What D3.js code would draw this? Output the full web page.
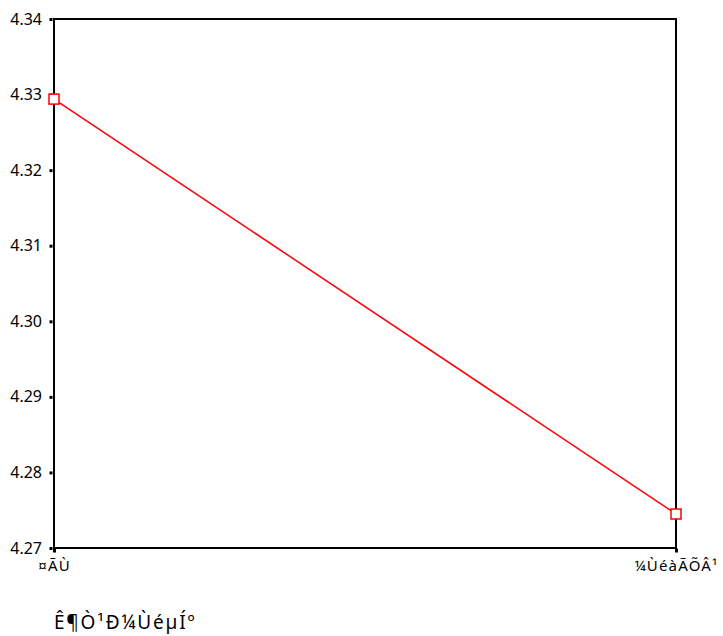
<!DOCTYPE html>
<html>
<head>
<meta charset="utf-8">
<script src="https://cdn.jsdelivr.net/npm/d3@7"></script>
<style>
  body { margin: 0; background: #fff; }
  text { font-family: "Noto Sans", sans-serif; fill: #000; }
</style>
</head>
<body>
<div id="chart"></div>
<script>
// data
var categories = ["¤ÃÙ", "¼ÙéàÃÕÂ¹"];
var means = [4.3294, 4.2745];
var yTicks = [4.27, 4.28, 4.29, 4.30, 4.31, 4.32, 4.33, 4.34];
var xTitle = "Ê¶Ò¹Ð¼ÙéµÍº";

var W = 723, H = 636;
var margin = { top: 19, right: 47, bottom: 88, left: 54 };

var svg = d3.select("#chart").append("svg").attr("width", W).attr("height", H);

var x = d3.scalePoint().domain(categories).range([margin.left, W - margin.right]);
var y = d3.scaleLinear().domain([4.27, 4.34]).range([H - margin.bottom, margin.top]);

// frame
svg.append("rect")
  .attr("x", margin.left).attr("y", margin.top)
  .attr("width", W - margin.right - margin.left)
  .attr("height", H - margin.bottom - margin.top)
  .attr("fill", "none").attr("stroke", "#000").attr("stroke-width", 2);

// y axis
var yAxis = d3.axisLeft(y).tickValues(yTicks).tickFormat(d3.format(".2f")).tickSize(0).tickPadding(12);
var gy = svg.append("g").attr("transform", "translate(" + margin.left + ",0)").call(yAxis);
gy.select(".domain").remove();
gy.attr("font-family", null).attr("font-size", null);
gy.selectAll("text").style("font-size", "16px");
gy.selectAll(".tick").append("rect")
  .attr("x", -4.5).attr("y", -1.5).attr("width", 3).attr("height", 3).attr("fill", "#000");

// x axis
var xAxis = d3.axisBottom(x).tickSize(0).tickPadding(12);
var gx = svg.append("g").attr("transform", "translate(0," + (H - margin.bottom) + ")").call(xAxis);
gx.select(".domain").remove();
gx.attr("font-family", null).attr("font-size", null);
gx.selectAll("text").style("font-size", "15px").style("letter-spacing", "1.2px");
gx.selectAll(".tick").append("rect")
  .attr("x", -1.5).attr("y", 0.5).attr("width", 3).attr("height", 4).attr("fill", "#000");

svg.append("text")
  .attr("x", margin.left).attr("y", 629)
  .style("font-size", "19px")
  .style("letter-spacing", "1.8px")
  .text(xTitle);

// line + markers
var line = d3.line()
  .x(function(d, i) { return x(categories[i]); })
  .y(function(d) { return y(d); });

svg.append("path").datum(means)
  .attr("d", line)
  .attr("fill", "none").attr("stroke", "#ff0000").attr("stroke-width", 1.5);

svg.selectAll("rect.marker").data(means).enter().append("rect")
  .attr("class", "marker")
  .attr("x", function(d, i) { return x(categories[i]) - 5; })
  .attr("y", function(d) { return y(d) - 5; })
  .attr("width", 10).attr("height", 10)
  .attr("fill", "#fff").attr("stroke", "#ff0000").attr("stroke-width", 1.5);
</script>
</body>
</html>
